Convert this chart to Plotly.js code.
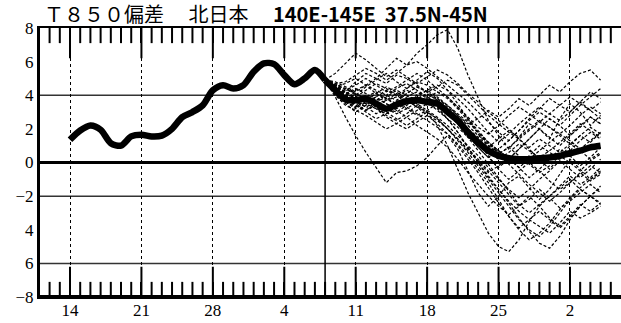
<!DOCTYPE html>
<html><head><meta charset="utf-8">
<script src="https://cdn.plot.ly/plotly-3.0.1.min.js"></script>
<style>html,body{margin:0;padding:0;background:#fff}</style>
</head><body><div id="chart" style="width:621px;height:323px"></div>
<script>
// Day offsets are counted from the first labelled date ("14")
const weekTickDays = [0, 7, 14, 21, 28, 35, 42, 49];
const weekTickLabels = ['14', '21', '28', '4', '11', '18', '25', '2'];
const yTickValues = [8, 6, 4, 2, 0, -2, -4, -6, -8];
const yTickLabels = ['8', '6', '4', '2', '0', '−2', '4', '6', '−8'];
const gridLevels = [4, -2, -6];
const initialDay = 25;

// observed (analysis) T850 anomaly, days 0..25
const analysis = [1.35, 1.9, 2.2, 1.95, 1.15, 1.0, 1.55, 1.65, 1.55, 1.6, 2.0, 2.7, 3.0, 3.4, 4.3, 4.6, 4.4, 4.6, 5.4, 5.9, 5.85, 5.2, 4.65, 5.0, 5.5, 4.9];

// ensemble mean, days 25..52
const ensembleMean = [4.9, 4.3, 3.75, 3.7, 3.8, 3.5, 3.2, 3.45, 3.65, 3.7, 3.6, 3.5, 3.0, 2.5, 1.8, 1.2, 0.7, 0.4, 0.25, 0.2, 0.2, 0.25, 0.3, 0.4, 0.55, 0.7, 0.9, 1.0];

// ensemble members, days 25..52
const members = [
  [4.9,4.6,4.2,4.8,5.3,5.0,5.6,6.2,5.8,6.5,7.0,7.6,7.9,6.8,5.2,3.8,2.5,1.6,0.8,1.5,2.3,2.0,1.4,2.6,3.5,3.0,2.2,2.8],
  [4.9,3.9,2.7,1.6,0.6,-0.3,-1.2,-0.6,-0.5,-0.2,0.3,1.0,1.6,0.8,-0.5,-1.8,-2.6,-2.0,-1.2,-0.8,-1.5,-2.2,-1.6,-0.7,0.2,-0.4,-1.0,-0.6],
  [4.9,4.4,4.0,3.6,3.9,3.3,2.8,2.5,2.9,3.4,3.0,2.2,1.0,-0.4,-1.8,-3.0,-4.2,-5.0,-5.3,-4.6,-3.5,-2.6,-2.0,-1.5,-1.0,-1.6,-2.0,-1.4],
  [4.9,4.5,4.1,4.3,4.6,4.1,3.7,3.9,4.3,4.0,3.6,3.3,2.6,1.8,0.9,0.0,-0.9,-1.6,-2.4,-3.3,-4.1,-4.8,-5.1,-4.4,-3.4,-2.6,-2.0,-2.4],
  [4.9,4.2,3.6,3.3,3.7,4.1,3.8,3.4,3.6,4.0,4.3,3.9,3.4,2.8,2.3,2.6,3.1,2.7,3.2,3.8,3.4,4.0,4.6,4.2,4.8,5.3,5.5,4.9],
  [4.9,4.6,4.4,4.0,4.5,4.9,5.3,4.8,4.4,4.9,5.4,5.0,4.3,3.5,2.6,1.7,1.0,0.5,0.9,1.4,0.8,0.2,-0.4,0.3,1.0,1.6,1.2,1.8],
  [4.9,4.0,3.4,3.1,2.8,2.4,2.0,2.3,2.7,2.2,1.8,1.4,0.9,0.2,-0.6,-1.3,-2.0,-2.6,-3.1,-2.6,-2.0,-2.6,-3.3,-3.8,-3.2,-2.5,-2.9,-2.4],
  [4.9,4.7,4.8,5.2,5.6,5.3,4.9,5.3,5.8,6.0,5.6,5.1,4.6,4.1,3.6,3.0,2.4,1.8,1.3,1.9,2.6,3.2,3.8,3.4,3.0,3.6,4.2,3.8],
  [4.9,4.3,3.9,3.5,3.1,3.4,3.0,2.6,2.2,2.6,3.0,2.6,2.0,1.3,0.6,-0.2,-1.0,-1.8,-2.6,-3.4,-4.0,-4.4,-3.8,-3.0,-2.2,-1.6,-2.0,-1.5],
  [4.9,4.4,3.9,4.1,3.8,3.4,3.1,3.6,4.1,4.5,4.2,3.8,3.3,2.8,2.2,1.6,1.2,0.7,0.3,-0.1,0.4,1.0,0.6,0.2,0.7,1.3,1.8,1.4],
  [4.9,4.5,4.0,3.7,4.0,3.6,3.2,3.5,3.3,2.9,2.5,2.1,1.7,1.1,0.4,-0.4,-1.2,-2.2,-3.2,-4.0,-4.6,-4.2,-3.6,-2.8,-2.1,-1.5,-1.0,-0.5],
  [4.9,4.2,3.7,3.9,4.3,4.7,4.4,4.0,4.4,4.8,4.6,4.2,3.8,3.2,2.5,1.8,1.1,0.6,0.2,0.8,1.4,2.0,2.6,2.2,1.6,2.1,2.7,2.3],
  [4.9,4.6,4.1,3.6,3.3,2.9,3.2,3.6,3.2,2.8,3.1,3.5,3.1,2.4,1.6,0.9,0.3,-0.3,0.2,0.8,1.4,2.0,1.5,1.0,1.6,2.2,2.7,2.3],
  [4.9,4.8,4.5,4.2,4.6,5.0,4.7,5.2,5.0,4.6,4.2,4.5,4.9,4.6,4.0,3.4,2.8,2.3,1.8,1.4,1.9,2.4,2.1,1.7,2.2,2.8,3.3,2.9],
  [4.9,4.1,3.5,3.0,3.4,3.8,3.5,3.1,2.7,3.1,3.5,3.2,2.6,1.8,0.9,0.0,-0.8,-1.6,-2.3,-2.9,-3.4,-3.8,-4.2,-3.6,-2.9,-3.3,-3.0,-2.6],
  [4.9,4.5,4.2,3.8,3.5,3.2,2.9,3.3,3.7,3.4,3.8,4.2,3.9,3.3,2.7,2.1,1.7,2.2,2.8,3.3,2.9,2.4,2.9,3.4,3.9,3.5,3.1,3.6],
  [4.9,4.3,3.6,3.2,3.6,3.2,2.7,2.3,2.0,2.4,2.8,2.5,2.0,1.4,0.7,0.1,-0.6,-0.2,0.3,-0.3,-0.9,-0.4,0.2,0.8,0.4,-0.2,0.3,0.9],
  [4.9,4.7,4.3,4.6,5.0,4.6,4.2,4.5,4.9,5.3,4.9,4.4,3.9,3.3,2.6,1.9,1.2,0.5,-0.1,-0.7,-1.3,-1.8,-2.3,-1.8,-1.2,-0.6,-1.1,-0.7],
  [4.9,4.4,4.1,3.8,3.5,3.9,4.3,4.0,3.6,3.9,4.3,4.6,4.3,3.8,3.2,2.5,1.8,1.2,1.7,2.3,2.8,3.3,2.9,2.5,3.0,3.6,3.1,2.6],
  [4.9,4.2,3.8,3.4,3.0,2.6,2.9,3.3,3.7,3.3,2.8,2.3,1.7,1.0,0.2,-0.6,-1.5,-2.4,-3.2,-3.9,-3.4,-2.9,-3.4,-3.9,-3.3,-2.6,-2.0,-2.5],
  [4.9,5.3,5.9,6.5,6.1,5.6,5.1,5.5,5.1,4.7,5.1,5.5,5.2,4.7,4.1,3.6,3.0,2.5,2.0,1.4,0.9,1.4,1.0,0.6,1.1,0.7,0.2,0.6],
  [4.9,4.4,3.9,3.6,3.9,4.2,3.8,3.5,3.9,4.2,3.8,3.4,2.9,2.3,1.6,0.9,0.3,0.8,1.3,1.9,2.5,3.0,2.6,2.2,2.8,3.4,3.9,4.4],
  [4.9,4.3,3.8,3.5,3.8,3.5,3.2,3.0,3.4,3.8,4.1,3.7,3.2,2.6,2.0,1.5,1.0,0.5,0.9,0.4,-0.1,-0.6,-0.2,0.4,0.0,-0.5,0.1,0.5],
  [4.9,4.5,4.1,4.4,4.1,3.7,4.0,4.4,4.7,4.3,3.9,3.5,3.0,2.3,1.5,0.7,-0.1,-0.9,-1.7,-2.5,-3.0,-2.5,-2.0,-1.4,-0.8,-1.3,-0.9,-0.3],
  [4.9,4.6,4.2,3.9,3.6,3.9,3.5,3.2,3.5,3.9,3.6,3.1,2.6,2.1,1.5,1.1,0.6,0.2,0.6,1.1,0.7,0.3,0.7,1.2,1.7,2.3,1.9,1.5],
  [4.9,4.2,3.7,3.3,3.7,4.1,4.5,4.2,3.8,3.5,3.1,2.7,2.2,1.6,1.0,0.4,-0.3,-1.0,-1.6,-2.1,-1.6,-1.0,-0.5,0.1,-0.4,-0.9,-0.4,0.2],
  [4.9,4.4,4.0,3.7,3.3,3.6,3.9,4.3,4.0,3.7,3.4,3.8,3.4,2.9,2.4,1.8,1.2,0.7,0.2,-0.3,0.2,0.7,1.2,1.7,1.3,0.8,1.3,1.8],
  [4.9,4.5,4.7,5.0,4.6,4.3,4.0,3.7,4.1,4.5,4.2,3.7,3.2,2.7,2.0,1.2,0.4,-0.4,-1.0,-0.5,0.0,-0.5,-1.1,-1.6,-1.2,-0.7,-0.2,-0.6],
  [4.9,4.3,3.8,3.4,3.1,3.5,3.2,2.9,3.2,3.6,3.9,3.5,3.0,2.5,1.9,1.4,0.9,1.4,1.9,1.5,2.0,2.5,2.1,1.6,1.1,1.6,2.1,1.7],
  [4.9,4.6,4.4,4.1,3.8,3.4,3.7,4.1,3.7,3.3,3.0,2.6,2.0,1.4,0.8,0.2,-0.5,-1.2,-1.9,-2.6,-2.2,-1.6,-2.1,-2.7,-2.3,-1.8,-1.3,-1.8]
];

const analysisDays = analysis.map((_, i) => i);
const forecastDays = ensembleMean.map((_, i) => initialDay + i);

const traces = [];
members.forEach(m => {
  traces.push({
    x: m.map((_, i) => initialDay + i), y: m, type: 'scatter', mode: 'lines',
    line: {color: '#000', width: 1.2, dash: '3px,2px'}, hoverinfo: 'skip'
  });
});
traces.push({x: analysisDays, y: analysis, type: 'scatter', mode: 'lines',
  line: {color: '#000', width: 6.5, shape: 'spline', smoothing: 0.8}});
traces.push({x: forecastDays, y: ensembleMean, type: 'scatter', mode: 'lines',
  line: {color: '#000', width: 6.5, shape: 'spline', smoothing: 0.8}});

const shapes = gridLevels.map(v => ({
  type: 'line', xref: 'paper', yref: 'y', x0: 0, x1: 1, y0: v, y1: v,
  line: {color: '#333', width: 1.5}, layer: 'below'
}));
shapes.push({type: 'line', xref: 'x', yref: 'paper', x0: initialDay, x1: initialDay, y0: 0, y1: 1,
  line: {color: '#000', width: 1.5}, layer: 'below'});
// daily tick marks along the bottom and top edges (longer at weekly labels)
for (let d = -2; d <= 53; d++) {
  const isWeek = weekTickDays.indexOf(d) >= 0;
  const lenVal = isWeek ? 1.8 : 0.9;
  shapes.push({type: 'line', xref: 'x', yref: 'y', x0: d, x1: d, y0: -8, y1: -8 + lenVal,
    line: {color: '#000', width: 2}, layer: 'above'});
  shapes.push({type: 'line', xref: 'x', yref: 'y', x0: d, x1: d, y0: 8, y1: 8 - lenVal,
    line: {color: '#000', width: 2}, layer: 'above'});
}
shapes.push({type: 'line', xref: 'paper', yref: 'paper', x0: 0, x1: 1, y0: 0, y1: 0,
  line: {color: '#000', width: 4}});

const serif = 'Liberation Serif, Times New Roman, DejaVu Serif, serif';

const layout = {
  width: 621, height: 323,
  margin: {l: 40, r: 0, t: 28, b: 26, pad: 0},
  paper_bgcolor: '#fff', plot_bgcolor: '#fff',
  showlegend: false,
  title: {
    text: 'Ｔ８５０偏差　 北日本　 <b>140E-145E  37.5N-45N</b>',
    font: {family: 'Noto Sans CJK JP', size: 20, color: '#000'},
    x: 44 / 621, xanchor: 'left', xref: 'container',
    y: 1 - 15 / 323, yanchor: 'middle', yref: 'container'
  },
  xaxis: {
    range: [-2.94, 54.0], tickvals: weekTickDays, ticktext: weekTickLabels,
    ticks: 'inside', ticklen: 15, tickwidth: 2, tickcolor: '#000',
    showline: true, linecolor: '#000', linewidth: 2, mirror: 'allticks',
    showgrid: true, gridcolor: '#000', gridwidth: 1, griddash: 'dot',
    zeroline: false, ticklabelstandoff: -3,
    tickfont: {family: serif, size: 17, color: '#000'},
    fixedrange: true
  },
  yaxis: {
    range: [-8, 8], tickvals: yTickValues, ticktext: yTickLabels,
    ticks: '', showline: true, linecolor: '#000', linewidth: 3,
    showgrid: false, zeroline: true, zerolinecolor: '#000', zerolinewidth: 3,
    tickfont: {family: serif, size: 17, color: '#000'},
    fixedrange: true
  },
  shapes: shapes
};

Plotly.newPlot('chart', traces, layout, {staticPlot: true, displayModeBar: false});
</script>
</body></html>
